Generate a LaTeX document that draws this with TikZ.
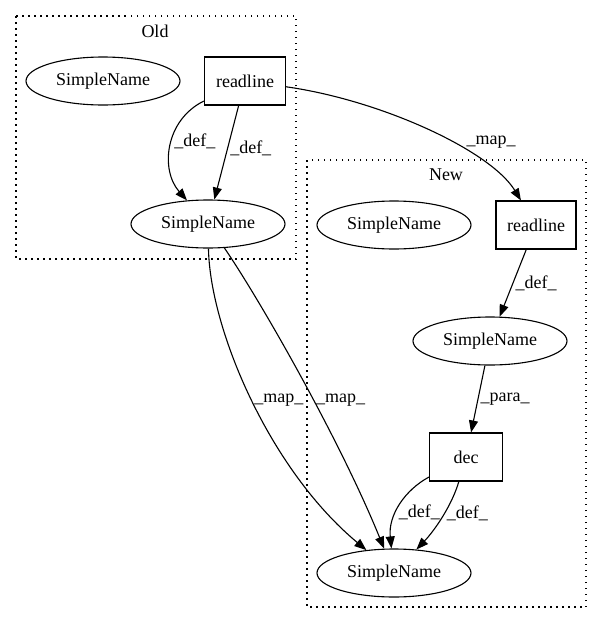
\documentclass[tikz,border=0pt]{standalone}
\usepackage{fontspec}
\setmainfont{Liberation Serif}
\usetikzlibrary{arrows.meta,shapes.geometric}

\begin{document}
\begin{tikzpicture}[x=1pt,y=-1pt,font=\fontsize{18}{21}\selectfont,
	ell/.style={draw,ellipse,minimum width=154pt,minimum height=48pt,inner sep=0pt,line width=1.1pt},
	box/.style={draw,rectangle,minimum height=48pt,inner sep=0pt,line width=1.1pt},
	edge/.style={-{Triangle[length=12pt,width=9pt]},line width=1.1pt},
	lbl/.style={anchor=west,inner sep=2pt},
	clus/.style={line width=1.1pt,dash pattern=on 1.5pt off 4.5pt}]
			%%%%% START %%%%%
			\useasboundingbox (0, 0) rectangle (603, 624);
			
			% clusters
			\draw[clus] (16, 16) rectangle (296, 259);
			\node at (155, 31) {Old};
			\draw[clus] (307, 160) rectangle (586, 607);
			\node at (446, 175) {New};
			
			% old
			\node[ell] (osn1) at (103, 81) {SimpleName};
			\node[box, minimum width=81pt] (orl) at (245, 81) {readline};
			\node[ell] (osn2) at (208, 224) {SimpleName};
			
			% new
			\node[ell] (nsn1) at (394, 225) {SimpleName};
			\node[box, minimum width=80pt] (nrl) at (536, 225) {readline};
			\node[ell] (nsn2) at (490, 341) {SimpleName};
			\node[box, minimum width=73pt] (dec) at (466, 457) {dec};
			\node[ell] (nsn3) at (394, 573) {SimpleName};
			
			% edges
			\draw[edge] (orl) .. controls (165, 120) and (160, 170) .. node[lbl, pos=0.45] {\_def\_} (osn2);
			\draw[edge] (orl) -- node[lbl, pos=0.45] {\_def\_} (osn2);
			\draw[edge] (orl) .. controls (380, 100) and (490, 150) .. node[lbl, pos=0.6, xshift=12pt] {\_map\_} (nrl);
			\draw[edge] (nrl) -- node[lbl, pos=0.5] {\_def\_} (nsn2);
			\draw[edge] (nsn2) -- node[lbl, pos=0.5] {\_para\_} (dec);
			\draw[edge] (dec) .. controls (405, 490) and (388, 515) .. node[lbl, pos=0.6] {\_def\_} (nsn3);
			\draw[edge] (dec) .. controls (452, 505) and (435, 530) .. node[lbl, pos=0.45] {\_def\_} (nsn3);
			\draw[edge] (osn2) .. controls (210, 330) and (270, 470) .. node[lbl, pos=0.5] {\_map\_} (nsn3);
			\draw[edge] (osn2) .. controls (260, 300) and (340, 440) .. node[lbl, pos=0.57] {\_map\_} (nsn3);
			%%%%% END %%%%%
\end{tikzpicture}
\end{document}
